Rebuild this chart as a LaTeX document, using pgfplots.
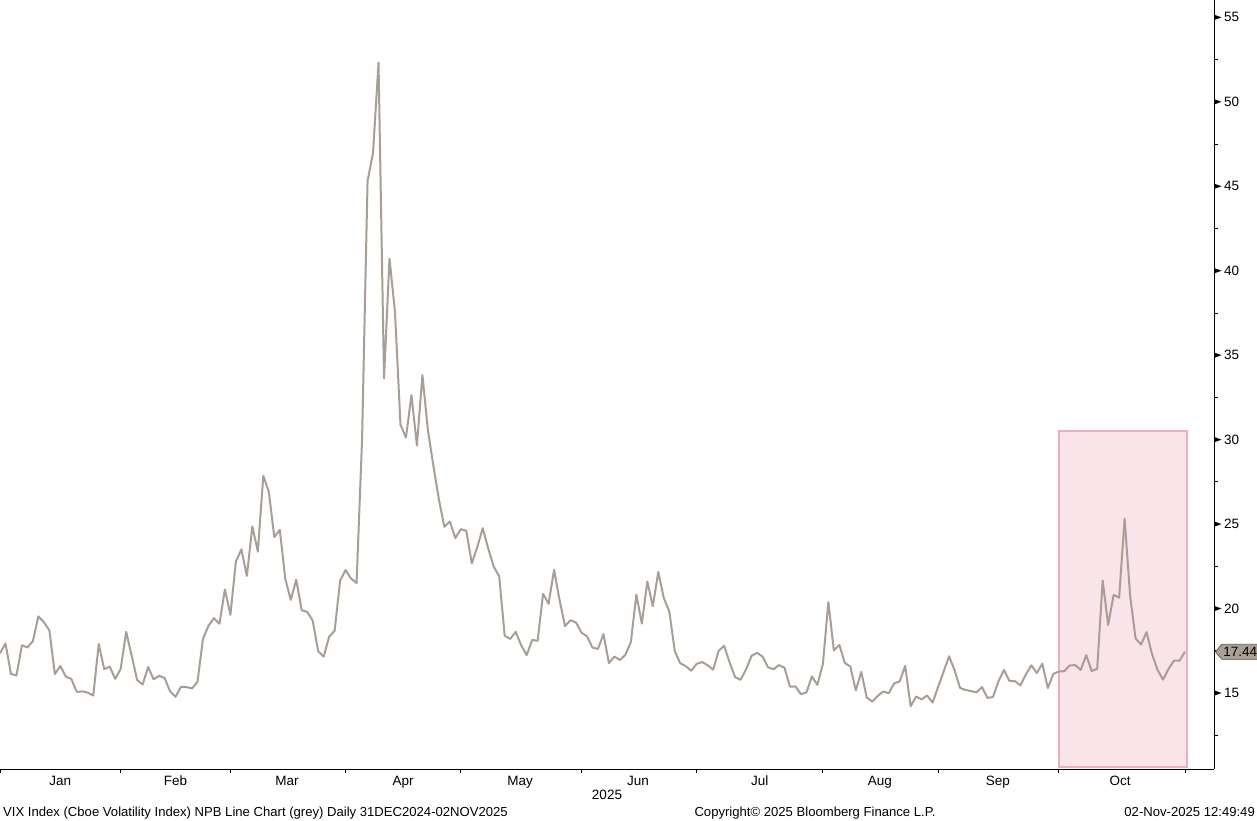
\documentclass[border=0pt]{standalone}
\usepackage{fontspec}
\setmainfont{Liberation Sans}
\usepackage{pgfplots}
\pgfplotsset{compat=1.18}
\usepackage{pgfplotstable}
\usetikzlibrary{shapes.symbols}
\definecolor{vixline}{RGB}{168,158,148}
\definecolor{pinkfill}{RGB}{249,228,234}
\definecolor{pinkedge}{RGB}{241,172,192}
\definecolor{tagfill}{RGB}{168,158,148}

\pgfdeclareplotmark{rtri}{%
  \pgfpathmoveto{\pgfpoint{0pt}{2.7pt}}%
  \pgfpathlineto{\pgfpoint{7.5pt}{0pt}}%
  \pgfpathlineto{\pgfpoint{0pt}{-2.7pt}}%
  \pgfpathclose\pgfusepathqfill}

% x = trading-day index (31 Dec 2024 = 0 ... 31 Oct 2025 = 216)
\pgfplotstableread{
x y
0 17.35
1 17.93
2 16.13
3 16.04
4 17.82
5 17.70
6 18.07
7 19.54
8 19.19
9 18.71
10 16.12
11 16.60
12 15.97
13 15.83
14 15.06
15 15.10
16 15.02
17 14.85
18 17.90
19 16.41
20 16.56
21 15.84
22 16.43
23 18.62
24 17.21
25 15.77
26 15.50
27 16.54
28 15.81
29 16.02
30 15.89
31 15.10
32 14.77
33 15.37
34 15.35
35 15.27
36 15.66
37 18.21
38 18.98
39 19.43
40 19.10
41 21.13
42 19.63
43 22.78
44 23.51
45 21.93
46 24.87
47 23.37
48 27.86
49 26.92
50 24.23
51 24.66
52 21.77
53 20.51
54 21.70
55 19.90
56 19.80
57 19.28
58 17.48
59 17.15
60 18.33
61 18.69
62 21.65
63 22.28
64 21.77
65 21.51
66 30.02
67 45.31
68 46.98
69 52.33
70 33.62
71 40.72
72 37.56
73 30.89
74 30.12
75 32.64
76 29.65
77 33.82
78 30.57
79 28.45
80 26.47
81 24.84
82 25.15
83 24.17
84 24.70
85 24.60
86 22.68
87 23.64
88 24.76
89 23.55
90 22.48
91 21.90
92 18.39
93 18.20
94 18.62
95 17.83
96 17.24
97 18.14
98 18.09
99 20.87
100 20.28
101 22.29
102 20.50
103 18.96
104 19.31
105 19.18
106 18.57
107 18.36
108 17.69
109 17.61
110 18.48
111 16.77
112 17.16
113 16.95
114 17.26
115 18.02
116 20.82
117 19.11
118 21.60
119 20.14
120 22.17
121 20.62
122 19.83
123 17.48
124 16.76
125 16.59
126 16.32
127 16.73
128 16.83
129 16.64
130 16.38
131 17.50
132 17.79
133 16.81
134 15.94
135 15.78
136 16.40
137 17.20
138 17.38
139 17.16
140 16.52
141 16.41
142 16.65
143 16.50
144 15.37
145 15.39
146 14.93
147 15.03
148 15.98
149 15.48
150 16.72
151 20.38
152 17.52
153 17.85
154 16.77
155 16.57
156 15.15
157 16.25
158 14.73
159 14.49
160 14.83
161 15.09
162 14.99
163 15.57
164 15.69
165 16.60
166 14.22
167 14.79
168 14.62
169 14.85
170 14.43
171 15.36
172 16.26
173 17.17
174 16.35
175 15.30
176 15.18
177 15.11
178 15.04
179 15.35
180 14.71
181 14.76
182 15.69
183 16.36
184 15.72
185 15.70
186 15.45
187 16.10
188 16.64
189 16.18
190 16.74
191 15.29
192 16.12
193 16.28
194 16.29
195 16.63
196 16.65
197 16.37
198 17.24
199 16.30
200 16.43
201 21.66
202 19.03
203 20.81
204 20.64
205 25.31
206 20.78
207 18.23
208 17.87
209 18.60
210 17.30
211 16.37
212 15.79
213 16.42
214 16.92
215 16.91
216 17.44
}\vixdata

\begin{document}
\begin{tikzpicture}[x=1pt,y=1pt]
\path[use as bounding box] (0,0) rectangle (1257,821);
\begin{axis}[
  at={(0pt,52pt)}, anchor=south west,
  scale only axis, width=1214pt, height=769pt,
  xmin=0, xmax=221.3, ymin=10.5, ymax=56.03,
  axis x line*=bottom, axis y line*=right,
  axis line style={black, line width=0.9pt, -},
  xtick={0,22,42,63,84,106,127,150,171,193,216},
  xticklabels={},
  extra x ticks={11,32,52.3,73.5,94.8,116.3,138.5,160.4,181.9,204.2},
  extra x tick labels={Jan,Feb,Mar,Apr,May,Jun,Jul,Aug,Sep,Oct},
  extra x tick style={tick style={draw=none}},
  xticklabel style={text height=9.8pt, text depth=2.8pt, inner sep=2pt},
  ytick={15,20,25,30,35,40,45,50,55},
  minor ytick={12.5,17.5,22.5,27.5,32.5,37.5,42.5,47.5,52.5},
  tick align=outside,
  major tick length=4pt, minor tick length=4pt,
  tick style={black, line width=0.9pt},
  yticklabel pos=right,
  ticklabel style={font=\fontsize{13.5}{15}\selectfont, text=black},
  yticklabel style={xshift=2.5pt},
  /pgf/number format/assume math mode=true,
  clip mode=individual,
]
\addplot[draw=pinkedge, line width=1.5pt, fill=pinkfill] coordinates {(193,10.62) (216.4,10.62) (216.4,30.5) (193,30.5)} -- cycle;
\addplot[vixline, line width=2pt, line join=round] table[x=x, y=y] {\vixdata};
\addplot[only marks, mark=rtri, black] coordinates {(221.3,15) (221.3,20) (221.3,25) (221.3,30) (221.3,35) (221.3,40) (221.3,45) (221.3,50) (221.3,55)};
\node[signal, signal to=west, signal pointer angle=100, fill=tagfill, draw=black!70, line width=0.6pt,
      inner xsep=1.5pt, inner ysep=3pt, anchor=west, xshift=1pt, font=\fontsize{13.5}{15}\selectfont]
      at (axis cs:221.3,17.44) {17.44};
\end{axis}
\node[anchor=base, font=\fontsize{13.5}{15}\selectfont] at (607,21) {2025};
\node[anchor=base west, inner sep=0pt, font=\fontsize{13.1}{15}\selectfont] at (3,5) {VIX Index (Cboe Volatility Index) NPB Line Chart (grey) Daily 31DEC2024-02NOV2025};
\node[anchor=base, inner sep=0pt, font=\fontsize{13.1}{15}\selectfont] at (815,5) {Copyright© 2025 Bloomberg Finance L.P.};
\node[anchor=base east, inner sep=0pt, font=\fontsize{13.1}{15}\selectfont] at (1255,5) {02-Nov-2025 12:49:49};
\end{tikzpicture}
\end{document}
